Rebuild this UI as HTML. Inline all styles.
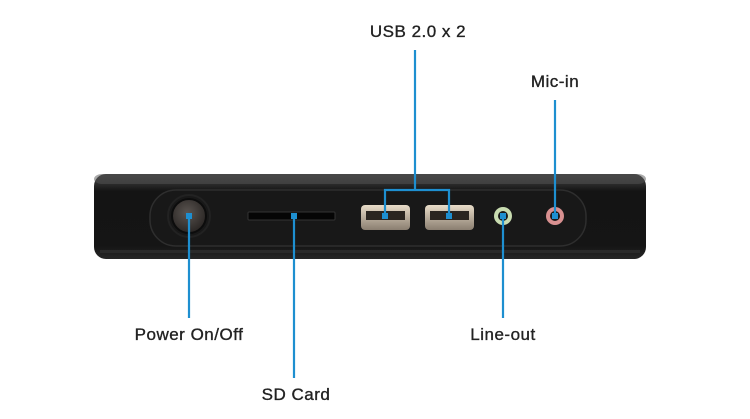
<!DOCTYPE html>
<html><head><meta charset="utf-8"><style>
html,body{margin:0;padding:0;background:#fff;}
svg{display:block;}
text{font-family:"Liberation Sans",sans-serif;font-size:17px;fill:#222;stroke:#222;stroke-width:0.35;text-anchor:middle;letter-spacing:0.5px;}
</style></head><body>
<svg width="750" height="419" viewBox="0 0 750 419" xmlns="http://www.w3.org/2000/svg">
<defs>
<linearGradient id="body" x1="0" y1="0" x2="0" y2="1">
<stop offset="0" stop-color="#3a3a3a"/><stop offset="0.12" stop-color="#2a2a2a"/>
<stop offset="0.2" stop-color="#141414"/><stop offset="0.85" stop-color="#151515"/>
<stop offset="1" stop-color="#262626"/></linearGradient>
<radialGradient id="btn" cx="0.45" cy="0.4" r="0.6"><stop offset="0" stop-color="#5a5450"/><stop offset="1" stop-color="#2a2624"/></radialGradient>
<linearGradient id="usb" x1="0" y1="0" x2="0" y2="1"><stop offset="0" stop-color="#e8dcc8"/><stop offset="1" stop-color="#8a7e70"/></linearGradient>
</defs>
<rect x="94" y="174" width="552" height="85" rx="12" fill="url(#body)"/>
<rect x="94" y="174" width="552" height="10" rx="8" fill="#555" opacity="0.5"/>
<rect x="100" y="250" width="540" height="3" fill="#2a2a2a"/>
<rect x="150" y="190" width="436" height="56" rx="26" fill="#181818" stroke="#2e2e2e" stroke-width="1.5"/>
<circle cx="189" cy="216" r="21" fill="none" stroke="#222" stroke-width="2"/>
<circle cx="189" cy="216" r="17" fill="url(#btn)" stroke="#0c0c0c" stroke-width="2"/>
<rect x="248" y="212" width="87" height="8" rx="1" fill="#050505" stroke="#333" stroke-width="1"/>
<rect x="361" y="205" width="49" height="25" rx="4" fill="url(#usb)"/>
<rect x="366" y="211" width="39" height="9" fill="#2a2520"/>
<rect x="425" y="205" width="49" height="25" rx="4" fill="url(#usb)"/>
<rect x="430" y="211" width="39" height="9" fill="#2a2520"/>
<circle cx="503" cy="216" r="9" fill="#c8dcb0"/><circle cx="503" cy="216" r="5" fill="#1a1a1a"/>
<circle cx="555" cy="216" r="9" fill="#d89090"/><circle cx="555" cy="216" r="5" fill="#1a1a1a"/>
<g stroke="#1e8fd0" stroke-width="2.2" fill="none">
<line x1="189" y1="216" x2="189" y2="318"/>
<line x1="294" y1="216" x2="294" y2="378"/>
<line x1="415" y1="50" x2="415" y2="190"/>
<polyline points="385,216 385,190 449,190 449,216"/>
<line x1="503" y1="216" x2="503" y2="318"/>
<line x1="555" y1="100" x2="555" y2="216"/>
</g>
<g fill="#1e8fd0">
<rect x="186" y="213" width="6" height="6"/><rect x="291" y="213" width="6" height="6"/>
<rect x="382" y="213" width="6" height="6"/><rect x="446" y="213" width="6" height="6"/>
<rect x="500" y="213" width="6" height="6"/><rect x="552" y="213" width="6" height="6"/>
</g>
<text x="418" y="37">USB 2.0 x 2</text>
<text x="555" y="87">Mic-in</text>
<text x="189" y="340">Power On/Off</text>
<text x="503" y="340">Line-out</text>
<text x="296" y="400">SD Card</text>
</svg>
</body></html>
